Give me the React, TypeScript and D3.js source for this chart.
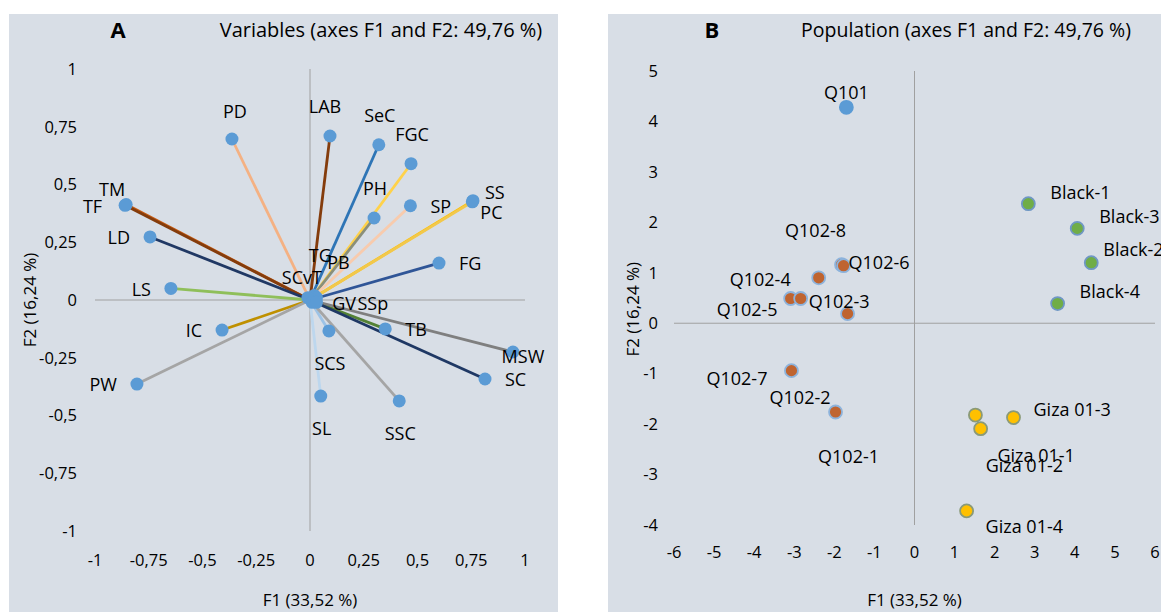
import * as d3 from 'd3';

// ---- Panel A: variable loadings on F1 / F2 ----
const variableNames = ['PD', 'LAB', 'SeC', 'FGC', 'PH', 'SP', 'SS', 'PC', 'FG', 'TM', 'TF', 'LD', 'LS', 'IC', 'PW', 'SCS', 'SL', 'SSC', 'TB', 'MSW', 'SC', 'TG', 'PB', 'SCvT', 'GV', 'SSp'];
const f1Loadings = [-0.363, 0.093, 0.32, 0.47, 0.298, 0.467, 0.758, 0.755, 0.6, -0.855, -0.86, -0.744, -0.647, -0.409, -0.805, 0.088, 0.05, 0.415, 0.35, 0.944, 0.814, 0.02, 0.03, -0.01, 0.01, 0.03];
const f2Loadings = [0.697, 0.71, 0.672, 0.59, 0.355, 0.408, 0.43, 0.425, 0.16, 0.413, 0.41, 0.273, 0.05, -0.13, -0.364, -0.134, -0.416, -0.437, -0.125, -0.225, -0.342, 0.02, 0.01, 0.01, -0.01, -0.01];
const vectorColors = ['#f4b183', '#843c0c', '#2e75b6', '#ffd24a', '#8a8f7a', '#f8cbad', '#ffc000', '#f2c84b', '#2f5597', '#c55a11', '#843c0c', '#203864', '#8fbf5a', '#bf9000', '#a5a5a5', '#9dc3e6', '#bdd7ee', '#a5a5a5', '#548235', '#7f7f7f', '#1f3864', '#a9d18e', '#f4b183', '#ffc000', '#70ad47', '#9dc3e6'];
const varTicks = [-1, -0.75, -0.5, -0.25, 0, 0.25, 0.5, 0.75, 1];

// ---- Panel B: observation scores ----
const observationNames = ['Q101', 'Q102-8', 'Q102-6', 'Q102-4', 'Q102-5', 'Q102-3', 'Q102-1', 'Q102-7', 'Q102-2', 'Black-1', 'Black-3', 'Black-2', 'Black-4', 'Giza 01-1', 'Giza 01-3', 'Giza 01-2', 'Giza 01-4'];
const obsF1 = [-1.7, -1.82, -1.77, -2.39, -3.09, -2.84, -1.67, -3.07, -1.97, 2.84, 4.06, 4.41, 3.57, 1.52, 2.47, 1.65, 1.3];
const obsF2 = [4.28, 1.16, 1.14, 0.9, 0.49, 0.49, 0.19, -0.94, -1.76, 2.37, 1.88, 1.2, 0.39, -1.82, -1.87, -2.09, -3.72];
const obsGroups = ['Q101', 'Q102', 'Q102', 'Q102', 'Q102', 'Q102', 'Q102', 'Q102', 'Q102', 'Black', 'Black', 'Black', 'Black', 'Giza', 'Giza', 'Giza', 'Giza'];
const popXTicks = [-6, -5, -4, -3, -2, -1, 0, 1, 2, 3, 4, 5, 6];
const popYTicks = [-4, -3, -2, -1, 0, 1, 2, 3, 4, 5];

const groupFill: Record<string, string> = { Q101: '#5b9bd5', Q102: '#bf6430', Black: '#70ad47', Giza: '#ffc000' };
const groupStroke: Record<string, string> = { Q101: '#5b9bd5', Q102: '#8db3dc', Black: '#6f97c4', Giza: '#8a9a78' };

type Place = [number, number, 'start' | 'middle' | 'end'];
const R: Place = [20, 1, 'start'];
const L: Place = [-20, 1, 'end'];
const T: Place = [1, -29, 'middle'];
const B: Place = [1, 33, 'middle'];

// label offsets (pixels from the marker, text centre)
const varLabelPlace: Record<string, Place> = {
  PD: [3, -27, 'middle'], LAB: [-5, -29, 'middle'], SeC: T, FGC: T, PH: T, SP: R, SS: [12, -8, 'start'], PC: [8, 11, 'start'],
  FG: R, TM: [-14, -15, 'middle'], TF: [-23, 1, 'end'], LD: L, LS: L, IC: L, PW: L, SCS: B, SL: B, SSC: B, TB: R,
  MSW: [10, 5, 'middle'], SC: R, TG: [6, -40, 'middle'], PB: [22, -35, 'middle'], SCvT: [-6, -20, 'middle'],
  GV: [20, 1, 'start'], SSp: [41, 1, 'start'],
};
const obsLabelPlace: Record<string, Place> = {
  Q101: [0, -15, 'middle'], 'Q102-8': [-26, -34, 'middle'], 'Q102-6': [5, -3, 'start'], 'Q102-4': [-28, 2, 'end'],
  'Q102-5': [-13, 11, 'end'], 'Q102-3': [8, 3, 'start'], 'Q102-1': [1, 143, 'middle'], 'Q102-7': [-24, 8, 'end'],
  'Q102-2': [-5, -14, 'end'], 'Black-1': [22, -11, 'start'], 'Black-3': [22, -12, 'start'], 'Black-2': [12, -13, 'start'],
  'Black-4': [22, -12, 'start'], 'Giza 01-1': [22, 41, 'start'], 'Giza 01-3': [20, -8, 'start'],
  'Giza 01-2': [5, 37, 'start'], 'Giza 01-4': [19, 16, 'start'],
};

const locale = d3.formatLocale({ decimal: ',', thousands: '.', grouping: [3], currency: ['', ''], minus: '-' });
const fmt = locale.format('');

const FONT = '"Open Sans", "Noto Sans", sans-serif';
const TXT = '#000';
const AXIS = '#a0a0a0';
const BG = '#d8dee6';
const TICK = 16.5;
const LBL = 18;

function VariablesPanel() {
  const x = d3.scaleLinear().domain([-1, 1]).range([95, 525]);
  const y = d3.scaleLinear().domain([-1, 1]).range([531, 69]);
  return (
    <g>
      <rect x={9} y={14} width={549} height={598} fill={BG} />
      <text x={118} y={38} fontSize={22} fontWeight="bold" textAnchor="middle" fill={TXT}>A</text>
      <text x={381} y={37} fontSize={20} textAnchor="middle" fill={TXT}>Variables (axes F1 and F2: 49,76 %)</text>
      <line x1={x(0)} x2={x(0)} y1={y(1)} y2={y(-1)} stroke={AXIS} strokeWidth={1} />
      <line x1={x(-1)} x2={x(1)} y1={y(0)} y2={y(0)} stroke={AXIS} strokeWidth={1} />
      {varTicks.map(t => (
        <text key={'y' + t} x={77} y={y(t)} dy="0.35em" fontSize={TICK} textAnchor="end" fill={TXT}>{fmt(t)}</text>
      ))}
      {varTicks.map(t => (
        <text key={'x' + t} x={x(t)} y={560} dy="0.35em" fontSize={TICK} textAnchor="middle" fill={TXT}>{fmt(t)}</text>
      ))}
      <text x={x(0)} y={600} dy="0.35em" fontSize={17} textAnchor="middle" fill={TXT}>F1 (33,52 %)</text>
      <text transform={`translate(30,${y(0)}) rotate(-90)`} dy="0.35em" fontSize={17} textAnchor="middle" fill={TXT}>F2 (16,24 %)</text>
      {variableNames.map((n, i) => (
        <line key={'l' + n} x1={x(0)} y1={y(0)} x2={x(f1Loadings[i])} y2={y(f2Loadings[i])} stroke={vectorColors[i]} strokeWidth={2.8} />
      ))}
      {variableNames.map((n, i) => (
        <circle key={'c' + n} cx={x(f1Loadings[i])} cy={y(f2Loadings[i])} r={6.5} fill="#5b9bd5" />
      ))}
      {variableNames.map((n, i) => {
        const p = varLabelPlace[n];
        return (
          <text key={'t' + n} x={x(f1Loadings[i]) + p[0]} y={y(f2Loadings[i]) + p[1]} dy="0.35em" fontSize={LBL} textAnchor={p[2]} fill={TXT}>{n}</text>
        );
      })}
    </g>
  );
}

function PopulationPanel() {
  const x = d3.scaleLinear().domain([-6, 6]).range([674, 1155]);
  const y = d3.scaleLinear().domain([-4, 5]).range([525, 71]);
  return (
    <g>
      <rect x={608} y={14} width={553} height={598} fill={BG} />
      <text x={712} y={38} fontSize={22} fontWeight="bold" textAnchor="middle" fill={TXT}>B</text>
      <text x={966} y={37} fontSize={19.5} textAnchor="middle" fill={TXT}>Population (axes F1 and F2: 49,76 %)</text>
      <line x1={x(0)} x2={x(0)} y1={y(5)} y2={y(-4)} stroke={AXIS} strokeWidth={1} />
      <line x1={x(-6)} x2={x(6)} y1={y(0)} y2={y(0)} stroke={AXIS} strokeWidth={1} />
      {popYTicks.map(t => (
        <text key={'y' + t} x={658} y={y(t)} dy="0.35em" fontSize={TICK} textAnchor="end" fill={TXT}>{fmt(t)}</text>
      ))}
      {popXTicks.map(t => (
        <text key={'x' + t} x={x(t)} y={552} dy="0.35em" fontSize={TICK} textAnchor="middle" fill={TXT}>{fmt(t)}</text>
      ))}
      <text x={x(0)} y={600} dy="0.35em" fontSize={17} textAnchor="middle" fill={TXT}>F1 (33,52 %)</text>
      <text transform={`translate(633,${y(0) - 14}) rotate(-90)`} dy="0.35em" fontSize={17} textAnchor="middle" fill={TXT}>F2 (16,24 %)</text>
      {observationNames.map((n, i) => (
        <circle key={'c' + n} cx={x(obsF1[i])} cy={y(obsF2[i])} r={6.5}
          fill={groupFill[obsGroups[i]]} stroke={groupStroke[obsGroups[i]]} strokeWidth={1.8} />
      ))}
      {observationNames.map((n, i) => {
        const p = obsLabelPlace[n];
        return (
          <text key={'t' + n} x={x(obsF1[i]) + p[0]} y={y(obsF2[i]) + p[1]} dy="0.35em" fontSize={LBL} textAnchor={p[2]} fill={TXT}>{n}</text>
        );
      })}
    </g>
  );
}

export default function App() {
  return (
    <div style={{ position: 'absolute', left: 0, top: 0 }}>
      <svg width={1161} height={612} style={{ display: 'block', background: '#fff', fontFamily: FONT }}>
        <VariablesPanel />
        <PopulationPanel />
      </svg>
    </div>
  );
}
